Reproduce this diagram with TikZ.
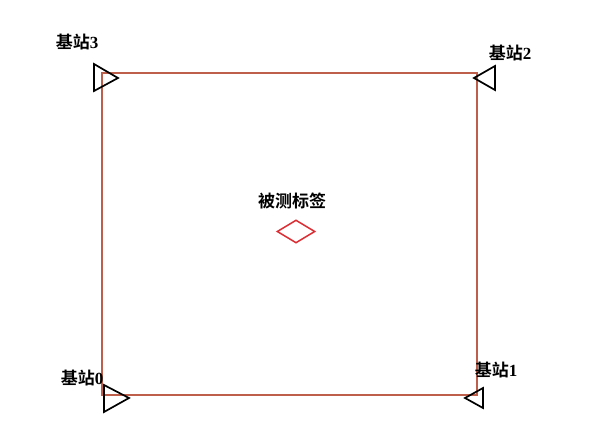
\documentclass[tikz,border=0pt]{standalone}
\usepackage{fontspec}
\setmainfont{Liberation Serif}
\newfontfamily\cjk{Noto Sans CJK SC}[BoldFont={Noto Sans CJK SC Bold}]
\usetikzlibrary{shapes.geometric}
\tikzset{
  lbl/.style={font=\fontsize{17}{20}\selectfont\bfseries, inner sep=0pt},
  station/.style={draw=black, line width=1.7pt, line join=miter},
  area/.style={draw={rgb,255:red,190;green,95;blue,75}, line width=1.4pt},
  tag/.style={draw={rgb,255:red,220;green,45;blue,50}, line width=1.5pt, diamond, aspect=1.65, minimum width=38pt, minimum height=23pt, inner sep=0pt},
}
\begin{document}
\begin{tikzpicture}[x=1pt,y=-1pt]
\useasboundingbox (0,0) rectangle (613,446);
\fill[white] (0,0) rectangle (613,446);
\draw[area] (102,73) rectangle (477,395);
% stations
\draw[station] (94,64) -- (94,91) -- (118,78) -- cycle;
\draw[station] (495,66) -- (495,90) -- (474,78) -- cycle;
\draw[station] (104,385) -- (104,412) -- (129,398) -- cycle;
\draw[station] (483,388) -- (483,408) -- (465,398) -- cycle;
\node[tag] (tag) at (296,231.5) {};
\node[lbl] (l3) at (77,42) {{\cjk 基站}3};
\node[lbl] (l2) at (510,53) {{\cjk 基站}2};
\node[lbl] (l0) at (82,378) {{\cjk 基站}0};
\node[lbl] (l1) at (496,370) {{\cjk 基站}1};
\node[lbl] (lt) at (292,201) {{\cjk 被测标签}};
\end{tikzpicture}
\end{document}
